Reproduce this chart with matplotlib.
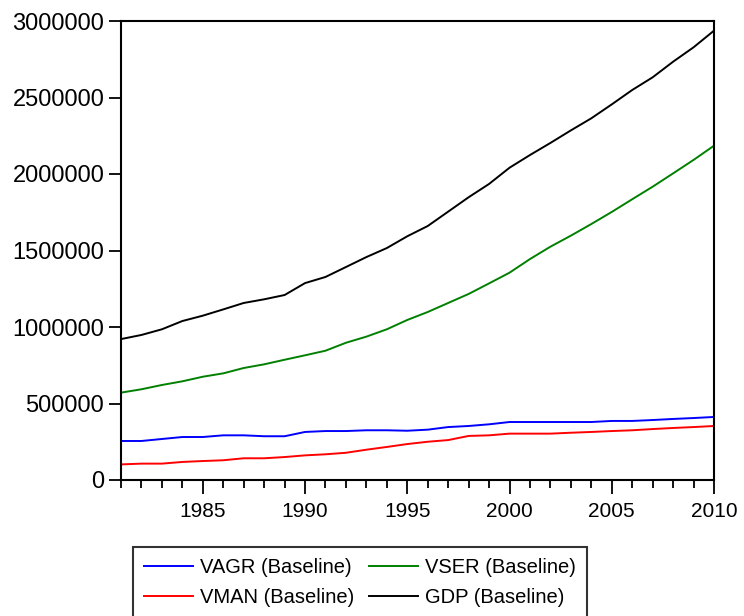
import numpy as np
from matplotlib import pyplot as plt
from matplotlib.ticker import MultipleLocator, FuncFormatter

years = np.arange(1981, 2011)

vagr = [255, 255, 268, 281, 281, 292, 292, 286, 286, 314,
        320, 320, 325, 325, 322, 329, 346, 353, 364, 379,
        379, 379, 379, 379, 386, 386, 392, 399, 405, 412]
vman = [102, 107, 107, 118, 124, 129, 142, 142, 150, 161,
        168, 178, 198, 216, 235, 250, 261, 288, 292, 303,
        303, 303, 309, 314, 320, 325, 333, 340, 346, 353]
vser = [571, 593, 621, 645, 675, 697, 732, 756, 786, 815,
        845, 897, 937, 985, 1046, 1098, 1157, 1216, 1285, 1355,
        1444, 1525, 1597, 1673, 1752, 1835, 1917, 2004, 2092, 2185]
gdp = [921, 948, 985, 1039, 1074, 1115, 1157, 1181, 1209, 1287,
       1327, 1392, 1457, 1516, 1593, 1660, 1754, 1848, 1935, 2041,
       2124, 2203, 2285, 2364, 2455, 2549, 2632, 2734, 2828, 2937]

series = [
    ('VAGR (Baseline)', vagr, '#0000ff'),
    ('VMAN (Baseline)', vman, '#ff0000'),
    ('VSER (Baseline)', vser, '#008000'),
    ('GDP (Baseline)', gdp, '#000000'),
]

plt.rcParams['font.family'] = ['Liberation Sans', 'DejaVu Sans']

fig = plt.figure(figsize=(7.44, 6.16), dpi=100)
ax = fig.add_axes([121 / 744, 1 - 480 / 616, 593 / 744, 459 / 616])

for name, vals, col in series:
    ax.plot(years, np.array(vals) * 1000, color=col, lw=1.4, label=name)

ax.set_xlim(1981, 2010)
ax.set_ylim(0, 3000000)
ax.xaxis.set_major_locator(MultipleLocator(5))
ax.xaxis.set_minor_locator(MultipleLocator(1))
ax.yaxis.set_major_locator(MultipleLocator(500000))
ax.yaxis.set_major_formatter(FuncFormatter(lambda v, p: '%d' % v))
ax.tick_params(axis='both', which='major', width=1.3, direction='out')
ax.tick_params(axis='x', which='major', length=10, pad=6, labelsize=15)
ax.tick_params(axis='x', which='minor', length=6, width=1.3, direction='out')
ax.tick_params(axis='y', which='major', length=9, pad=3, labelsize=17)
for s in ax.spines.values():
    s.set_linewidth(1.5)

handles, labels = ax.get_legend_handles_labels()
# column order: VAGR, VMAN | VSER, GDP
leg = fig.legend(handles, labels, ncol=2, loc='upper left',
                 bbox_to_anchor=(133 / 744, 1 - 547 / 616), borderaxespad=0,
                 fontsize=14.5, frameon=True, fancybox=False, edgecolor='black',
                 handlelength=2.45, handletextpad=0.35, columnspacing=0.7,
                 labelspacing=0.52, borderpad=0.55)
leg.get_frame().set_linewidth(1.5)

fig.savefig('out.png', dpi=100)
